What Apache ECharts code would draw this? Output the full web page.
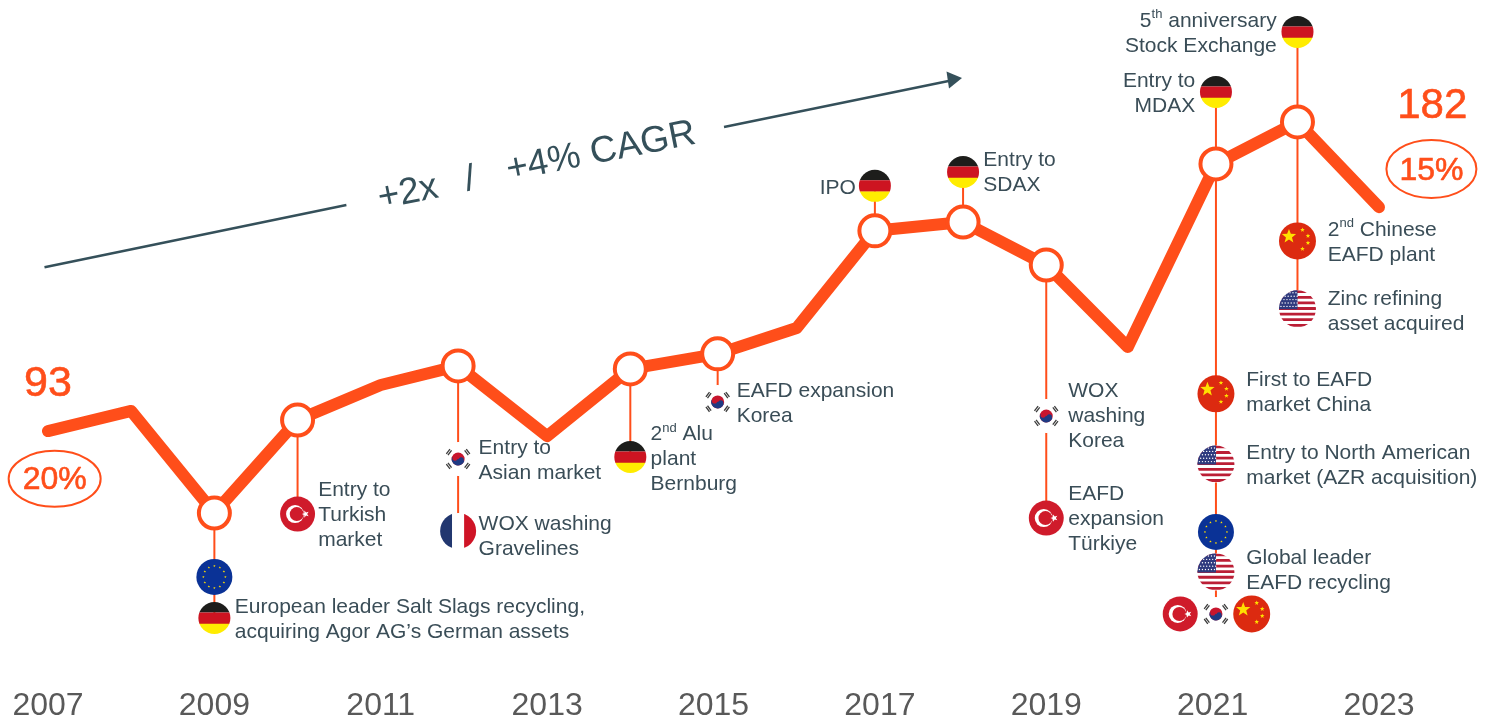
<!DOCTYPE html>
<html><head><meta charset="utf-8">
<style>html,body{margin:0;padding:0;background:#fff}#c{width:1487px;height:718px}</style>
<script src="https://cdn.jsdelivr.net/npm/echarts@6/dist/echarts.min.js"></script>
</head><body><div id="c"></div>
<script>
// Curve: x positions (years) and index level
const lineYears = [2007,2008,2009,2010,2011,2011.93,2013,2014,2015.05,2016,2016.94,2018,2019,2019.98,2021.04,2022.02,2023];
const lineValues = [93,101,60.4,97.4,111.3,118.9,91,117.7,123.7,134,172.6,176.1,159,126.4,199.2,215.9,182];
const tickYears = [2007,2009,2011,2013,2015,2017,2019,2021,2023];
const milestoneIdx = [2,3,5,7,8,10,11,12,14,15];
// Stems: [x, from, to]
const stems = [[2009,60.4,18.7],[2010,97.4,60],[2011.93,118.9,53.3],[2014,117.7,82.7],[2015.05,123.7,104.6],
  [2016.94,172.6,190.5],[2018,176.1,196],[2019,159,58.4],[2021.04,199.2,20.3],[2021.04,199.2,227.8],
  [2022.02,215.9,251.7],[2022.02,215.9,141.6]];
// Flags: [x, level, country]
const flags = [[2009,35,'eu'],[2009,18.7,'de'],[2010,60,'tr'],[2011.93,81.9,'kr'],[2011.93,53.3,'fr'],[2014,82.7,'de'],
  [2015.05,104.6,'kr'],[2016.94,190.5,'de'],[2018,196,'de'],[2019,99,'kr'],[2019,58.4,'tr'],
  [2021.04,227.8,'de'],[2021.04,107.8,'cn'],[2021.04,79.9,'us'],[2021.04,52.9,'eu'],[2021.04,37,'us'],
  [2020.61,20.3,'tr'],[2021.04,20.3,'kr'],[2021.47,20.3,'cn'],[2022.02,251.7,'de'],[2022.02,168.6,'cn'],[2022.02,141.6,'us']];
// Milestone notes: [x, level, pixel gap, side, text]
const notes = [
 [2009,18.1,20.4,'left',"European leader Salt Slags recycling,\nacquiring Agor AG’s German assets"],
 [2010,59.6,20.6,'left',"Entry to\nTurkish\nmarket"],
 [2011.93,81.3,20.5,'left',"Entry to\nAsian market"],
 [2011.93,51.1,20.5,'left',"WOX washing\nGravelines"],
 [2014,81.9,20.3,'left',"{b|2}{s|nd}{b| Alu}\nplant\nBernburg"],
 [2015.05,104,19,'left',"EAFD expansion\nKorea"],
 [2016.94,189.7,-19,'right',"IPO"],
 [2018,195.8,20.3,'left',"Entry to\nSDAX"],
 [2019,99,22,'left',"WOX\nwashing\nKorea"],
 [2019,58,22,'left',"EAFD\nexpansion\nTürkiye"],
 [2021.04,227.2,-20.7,'right',"Entry to\nMDAX"],
 [2022.02,251.1,-20.7,'right',"{b|5}{s|th}{b| anniversary}\nStock Exchange"],
 [2021.04,108.3,30.3,'left',"First to EAFD\nmarket China"],
 [2021.04,79.3,30.3,'left',"Entry to North American\nmarket (AZR acquisition)"],
 [2021.04,37.6,30.3,'left',"Global leader\nEAFD recycling"],
 [2022.02,168,30.3,'left',"{b|2}{s|nd}{b| Chinese}\nEAFD plant"],
 [2022.02,140.6,30.3,'left',"Zinc refining\nasset acquired"]
];
// Headline figures: [x, level, text, font size]
const figures = [[2007,111.7,'93',43],[2023.64,222.2,'182',42],[2007.08,73.6,'20%',32],[2023.63,196.4,'15%',32]];
const ovals = [[2007.08,74,46,28],[2023.63,197.2,45,29]];

const ORANGE='#ff4e1a', INK='#3a4d57';
const FONT='"Liberation Sans", Arial, sans-serif';

function rect(x,y,w,h,fill){return {type:'rect',shape:{x,y,width:w,height:h},style:{fill}};}
function disc(cx,cy,r,fill){return {type:'circle',shape:{cx,cy,r},style:{fill}};}
function star(cx,cy,R,fill,rot){const p=[];for(let i=0;i<10;i++){const a=-Math.PI/2+(rot||0)+i*Math.PI/5,q=i%2?R*0.42:R;p.push([cx+q*Math.cos(a),cy+q*Math.sin(a)]);}
  return {type:'polygon',shape:{points:p},style:{fill}};}
function flagParts(kind){
  if(kind==='de') return {r:16,c:[rect(-17,-17,34,11.5,'#1d1d1b'),rect(-17,-5.5,34,11.5,'#cd1421'),rect(-17,5.8,34,12,'#ffec00')]};
  if(kind==='fr') return {r:18,c:[rect(-19,-19,13,38,'#22376f'),rect(-6,-19,12,38,'#ffffff'),rect(6,-19,13,38,'#cf1426')]};
  if(kind==='tr') return {r:17.5,c:[rect(-18,-18,36,36,'#cf1b2b'),disc(-2.5,0,9,'#fff'),disc(-0.8,0,7,'#cf1b2b'),star(8,0,3.8,'#fff',-Math.PI/2)]};
  if(kind==='eu'){const c=[rect(-19,-19,38,38,'#0a3296')];for(let i=0;i<12;i++){const a=i*Math.PI/6;c.push(star(11*Math.cos(a),11*Math.sin(a),1.3,'#ffdd00'));}return {r:18,c};}
  if(kind==='cn'){return {r:18.5,c:[rect(-19,-19,38,38,'#dc2a10'),star(-8.5,-4.5,7.5,'#ffe000'),star(5,-11,2.4,'#ffe000'),star(10.5,-5,2.4,'#ffe000'),star(10.5,2,2.4,'#ffe000'),star(5,8,2.4,'#ffe000')]};}
  if(kind==='us'){const c=[rect(-19,-19,38,38,'#ffffff')];for(let i=0;i<7;i++)c.push(rect(-19,-18.5+i*5.6,38,2.8,'#bb1e35'));
    c.push(rect(-19,-19,19,19.5,'#2f3a7e'));for(let j=0;j<5;j++)for(let i=0;i<6;i++)c.push(disc(-16.5+i*3+(j%2)*1.2,-16+j*3.4,0.7,'#fff'));return {r:18.5,c};}
  // kr
  const c=[disc(0,0,17,'#ffffff')];
  [[-1,-1],[1,-1],[-1,1],[1,1]].forEach(s=>{
    const ux=s[0]*0.8,uy=s[1]*0.6,tx=-uy,ty=ux;
    [[9.8,11.1],[11.8,13.1]].forEach(b=>{
      c.push({type:'polygon',shape:{points:[
        [ux*b[0]+tx*3,uy*b[0]+ty*3],[ux*b[1]+tx*3,uy*b[1]+ty*3],
        [ux*b[1]-tx*3,uy*b[1]-ty*3],[ux*b[0]-tx*3,uy*b[0]-ty*3]]},style:{fill:'#3c3c3c'}});
    });
  });
  c.push(disc(0,0,6.5,'#c8162e'));
  c.push({type:'sector',rotation:-0.3,shape:{cx:0,cy:0,r:6.5,r0:0,startAngle:0,endAngle:Math.PI},style:{fill:'#1f3a83'}});
  c.push(disc(-3.1,-0.95,2.6,'#c8162e'));c.push(disc(3.1,0.95,2.6,'#1f3a83'));
  return {r:0,c};
}

const option = {
  animation:false,
  backgroundColor:'#ffffff',
  grid:{left:48,right:108,top:11,bottom:53,containLabel:false,outerBoundsMode:'none'},
  xAxis:{type:'value',min:2007,max:2023,axisLine:{show:false},axisTick:{show:false},splitLine:{show:false},
    axisLabel:{customValues:tickYears,formatter:v=>String(v),color:'#595959',fontSize:32,fontFamily:FONT,margin:25,showMinLabel:true,showMaxLabel:true}},
  yAxis:{type:'value',min:0,max:260,show:false,splitLine:{show:false}},
  graphic:[
    {type:'line',shape:{x1:44.5,y1:267.3,x2:346.4,y2:205},style:{stroke:'#35505a',lineWidth:2.4}},
    {type:'line',shape:{x1:724,y1:127,x2:951,y2:80.5},style:{stroke:'#35505a',lineWidth:2.4}},
    {type:'polygon',shape:{points:[[962,78],[946.5,71.5],[949,88.5]]},style:{fill:'#35505a'}},
    {type:'text',x:408,y:193,rotation:0.195,style:{text:'+2x',fill:'#35505a',fontSize:37,fontFamily:FONT,textAlign:'center',textVerticalAlign:'middle',align:'center',verticalAlign:'middle'}},
    {type:'text',x:470,y:180,rotation:0.195,style:{text:'/',fill:'#35505a',fontSize:37,fontFamily:FONT,textAlign:'center',textVerticalAlign:'middle',align:'center',verticalAlign:'middle'}},
    {type:'text',x:601,y:152,rotation:0.195,style:{text:'+4% CAGR',fill:'#35505a',fontSize:37,fontFamily:FONT,textAlign:'center',textVerticalAlign:'middle',align:'center',verticalAlign:'middle'}}
  ],
  series:[
    {type:'custom',coordinateSystem:'cartesian2d',silent:true,z:2,clip:false,data:stems,
      encode:{x:0,y:1},
      renderItem(p,api){const a=api.coord([api.value(0),api.value(1)]),b=api.coord([api.value(0),api.value(2)]);
        return {type:'line',shape:{x1:a[0],y1:a[1],x2:b[0],y2:b[1]},style:{stroke:ORANGE,lineWidth:2}};}},
    {type:'line',z:3,silent:true,clip:false,showSymbol:true,showAllSymbol:true,
      data:lineYears.map((y,i)=>[y,lineValues[i]]),
      symbol:(v,p)=>milestoneIdx.includes(p.dataIndex)?'circle':'none',symbolSize:31,
      itemStyle:{color:'#ffffff',borderColor:ORANGE,borderWidth:4},
      lineStyle:{color:ORANGE,width:12,cap:'round',join:'round'}},
    {type:'custom',coordinateSystem:'cartesian2d',silent:true,z:4,clip:false,data:flags.map(f=>[f[0],f[1]]),
      encode:{x:0,y:1},
      renderItem(p,api){const c=api.coord([api.value(0),api.value(1)]),f=flagParts(flags[p.dataIndex][2]);
        const g={type:'group',x:c[0],y:c[1],children:f.c};
        if(f.r) g.clipPath={type:'circle',shape:{cx:0,cy:0,r:f.r}};
        return g;}},
    {type:'custom',coordinateSystem:'cartesian2d',silent:true,z:5,clip:false,data:notes.map(n=>[n[0],n[1]]),
      encode:{x:0,y:1},
      renderItem(p,api){const c=api.coord([api.value(0),api.value(1)]),n=notes[p.dataIndex];
        return {type:'text',x:c[0]+n[2],y:c[1],style:{text:n[4],fill:INK,fontSize:21,fontFamily:FONT,lineHeight:25,
          align:n[3],verticalAlign:'middle',textAlign:n[3],textVerticalAlign:'middle',
          rich:{b:{fontSize:21,fontFamily:FONT,fill:INK,color:INK,lineHeight:25},s:{fontSize:13,fontFamily:FONT,fill:INK,color:INK,lineHeight:25,verticalAlign:'top'}}}};}},
    {type:'custom',coordinateSystem:'cartesian2d',silent:true,z:5,clip:false,data:ovals.map(o=>[o[0],o[1]]),
      encode:{x:0,y:1},
      renderItem(p,api){const c=api.coord([api.value(0),api.value(1)]),o=ovals[p.dataIndex];
        return {type:'ellipse',shape:{cx:c[0],cy:c[1],rx:o[2],ry:o[3]},style:{fill:'none',stroke:ORANGE,lineWidth:2}};}},
    {type:'custom',coordinateSystem:'cartesian2d',silent:true,z:5,clip:false,data:figures.map(f=>[f[0],f[1]]),
      encode:{x:0,y:1},
      renderItem(p,api){const c=api.coord([api.value(0),api.value(1)]),f=figures[p.dataIndex];
        return {type:'text',x:c[0],y:c[1],style:{text:f[2],fill:ORANGE,fontSize:f[3],fontFamily:FONT,
          align:'center',verticalAlign:'middle',textAlign:'center',textVerticalAlign:'middle',stroke:ORANGE,lineWidth:0.6}};}}
  ]
};
echarts.init(document.getElementById('c'),null,{renderer:'canvas'}).setOption(option);
</script></body></html>
